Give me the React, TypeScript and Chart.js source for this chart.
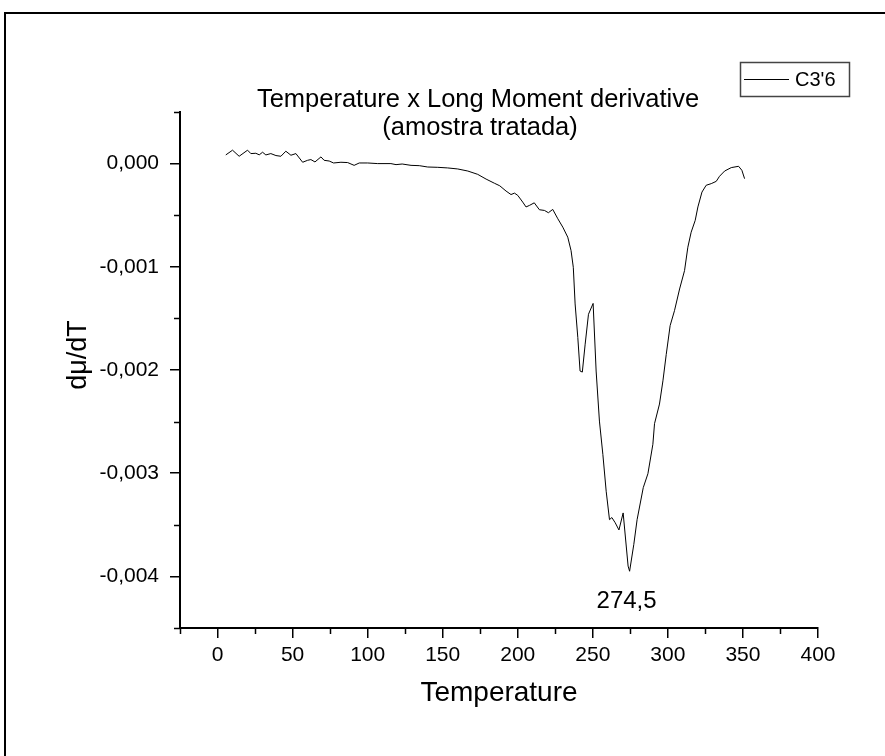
import React, { useEffect, useRef } from 'react';
import { Chart, registerables } from 'chart.js';

Chart.register(...registerables);

// ---- data ----
const temperatures = [
  5.5, 10, 14.4, 20, 22.2, 25.5, 27.8, 30, 32.2, 35.5, 38.9, 42.2, 45.5, 48.9, 52.2,
  56.7, 60, 62.2, 64.9, 68.9, 71, 74.4, 77.3, 82.2, 86.7, 91, 94.4, 100, 106.7, 115.5,
  118.9, 123, 128.9, 134.4, 140, 146.7, 153.3, 160, 166.7, 173.3, 178.9, 184.4, 188,
  192.2, 195.5, 197.8, 200, 203.3, 205.5, 207.8, 211, 214.4, 217.8, 220.4, 223.3,
  226.7, 230, 233.3, 235.5, 237, 238.2, 240, 241.5, 243, 244.9, 247.1, 250.2, 252.2,
  254.4, 256.7, 258.9, 261.1, 262.7, 264.9, 267.4, 270.2, 273.5, 274.5, 277.3, 279.5,
  283.6, 286.7, 290, 291.1, 294.4, 296.7, 298.9, 301.5, 304.4, 307.8, 311.1, 313.3,
  315.5, 318.2, 320, 322.7, 325.5, 328.9, 332.2, 334.4, 337.8, 342.2, 347.1, 349.3, 351.1,
];

const derivative = [
  0.000084, 0.00013, 0.000071, 0.00013, 0.000097, 0.0001, 0.000085, 0.00011, 0.000084,
  0.000097, 0.000078, 0.000071, 0.00012, 0.000081, 0.000097, 0.000013, 0.000032,
  0.000039, 0.000016, 0.000065, 0.000032, 0.000025, 0.000006, 0.000013, 0.00001,
  -0.000017, 0.000006, 0.000006, 0, 0, -0.00001, -0.000004, -0.000017, -0.00002,
  -0.000033, -0.000036, -0.000042, -0.000052, -0.000072, -0.000104, -0.00015, -0.00019,
  -0.000215, -0.000266, -0.0003, -0.000286, -0.000308, -0.000373, -0.00042, -0.000405,
  -0.00038, -0.000447, -0.000454, -0.000476, -0.000444, -0.000535, -0.000616, -0.000713,
  -0.000843, -0.001005, -0.00136, -0.001685, -0.00201, -0.00202, -0.00175, -0.00146,
  -0.001355, -0.00201, -0.002495, -0.00282, -0.003175, -0.00345, -0.00343, -0.00348,
  -0.00355, -0.003385, -0.0039, -0.00395, -0.00369, -0.00345, -0.00314, -0.003005,
  -0.00272, -0.00252, -0.00233, -0.002105, -0.00185, -0.00157, -0.001425, -0.001215,
  -0.001037, -0.00081, -0.000665, -0.00055, -0.00042, -0.000276, -0.00021, -0.000194,
  -0.000172, -0.000123, -0.000072, -0.000039, -0.000026, -0.000065, -0.000146,
];

const xMajorTicks = [0, 50, 100, 150, 200, 250, 300, 350, 400];
const xMinorTicks = [-25, 25, 75, 125, 175, 225, 275, 325, 375];
const yMajorTicks = [0, -0.001, -0.002, -0.003, -0.004];
const yMinorTicks = [0.0005, -0.0005, -0.0015, -0.0025, -0.0035, -0.0045];

const titleLines = ['Temperature x Long Moment derivative', '(amostra tratada)'];
const seriesLabel = "C3'6";
const xAxisTitle = 'Temperature';
const yAxisTitle = 'dμ/dT';
const peakTemperature = 274.5;
const peakValue = -0.00395;
const peakLabel = '274,5';

const FONT = '"Liberation Sans", Arial, sans-serif';

const formatComma = (v: number) => (Math.abs(v) < 1e-12 ? 0 : v).toFixed(3).replace('.', ',');

const decorPlugin = {
  id: 'decor',
  beforeDraw(chart: any) {
    const { ctx } = chart;
    ctx.save();
    ctx.fillStyle = '#ffffff';
    ctx.fillRect(0, 0, chart.width, chart.height);
    ctx.strokeStyle = '#000000';
    ctx.lineWidth = 2;
    ctx.strokeRect(5, 13, chart.width + 40, chart.height + 40);
    ctx.restore();
  },
  afterDraw(chart: any) {
    const { ctx } = chart;
    const xs = chart.scales.x;
    const ys = chart.scales.y;
    ctx.save();
    // minor ticks
    ctx.strokeStyle = '#000000';
    ctx.lineWidth = 1.5;
    xMinorTicks.forEach((v) => {
      const px = Math.round(xs.getPixelForValue(v)) + 0.5;
      ctx.beginPath();
      ctx.moveTo(px, ys.bottom);
      ctx.lineTo(px, ys.bottom + 6);
      ctx.stroke();
    });
    yMinorTicks.forEach((v) => {
      const py = Math.round(ys.getPixelForValue(v)) + 0.5;
      ctx.beginPath();
      ctx.moveTo(xs.left, py);
      ctx.lineTo(xs.left - 6, py);
      ctx.stroke();
    });

    // title
    ctx.fillStyle = '#000000';
    ctx.textAlign = 'center';
    ctx.textBaseline = 'middle';
    ctx.font = `25.5px ${FONT}`;
    ctx.fillText(titleLines[0], 478, 100);
    ctx.fillText(titleLines[1], 480, 128);

    // y axis title
    ctx.save();
    ctx.translate(79, 355);
    ctx.rotate(-Math.PI / 2);
    ctx.font = `27px ${FONT}`;
    ctx.fillText(yAxisTitle, 0, 0);
    ctx.restore();

    // peak label
    ctx.font = `24px ${FONT}`;
    ctx.fillText(peakLabel, xs.getPixelForValue(peakTemperature) - 3, ys.getPixelForValue(peakValue) + 30);

    // legend
    const ds = chart.data.datasets[0];
    ctx.strokeStyle = '#444444';
    ctx.lineWidth = 1.5;
    ctx.strokeRect(740.5, 62.5, 109, 34);
    ctx.strokeStyle = ds.borderColor;
    ctx.lineWidth = ds.borderWidth;
    ctx.beginPath();
    ctx.moveTo(744, 79.5);
    ctx.lineTo(789, 79.5);
    ctx.stroke();
    ctx.font = `20px ${FONT}`;
    ctx.textAlign = 'left';
    ctx.fillText(ds.label, 795, 80);
    ctx.restore();
  },
};

export default function App() {
  const canvasRef = useRef<HTMLCanvasElement | null>(null);

  useEffect(() => {
    document.body.style.margin = '0';
    const canvas = canvasRef.current;
    if (!canvas) return;
    const points = temperatures.map((t, i) => ({ x: t, y: derivative[i] }));
    const chart = new Chart(canvas, {
      type: 'line',
      data: {
        datasets: [
          {
            label: seriesLabel,
            data: points,
            borderColor: '#000000',
            borderWidth: 1,
            pointRadius: 0,
            tension: 0,
            fill: false,
          },
        ],
      },
      options: {
        animation: false,
        responsive: false,
        devicePixelRatio: 1,
        layout: { padding: { top: 112, right: 67, left: 0, bottom: 0 } },
        plugins: {
          legend: { display: false },
          title: { display: false },
          tooltip: { enabled: false },
        },
        scales: {
          x: {
            type: 'linear',
            min: -25,
            max: 400,
            afterBuildTicks: (s: any) => {
              s.ticks = xMajorTicks.map((value) => ({ value }));
            },
            afterFit: (s: any) => {
              s.height = 128;
            },
            ticks: {
              color: '#000000',
              font: { family: FONT, size: 21 },
              padding: 5,
              maxRotation: 0,
              autoSkip: false,
              callback: (v: any) => String(v),
            },
            grid: {
              display: true,
              drawOnChartArea: false,
              drawTicks: true,
              tickLength: 10,
              color: '#000000',
              lineWidth: 1.5,
            },
            border: { display: true, color: '#000000', width: 2 },
            title: {
              display: true,
              text: xAxisTitle,
              color: '#000000',
              font: { family: FONT, size: 28 },
              padding: { top: 0, bottom: 46 },
            },
          },
          y: {
            type: 'linear',
            min: -0.0045,
            max: 0.0005,
            afterBuildTicks: (s: any) => {
              s.ticks = yMajorTicks.map((value) => ({ value }));
            },
            afterFit: (s: any) => {
              s.width = 180;
            },
            ticks: {
              color: '#000000',
              font: { family: FONT, size: 21 },
              padding: 11,
              autoSkip: false,
              callback: (v: any) => formatComma(Number(v)),
            },
            grid: {
              display: true,
              drawOnChartArea: false,
              drawTicks: true,
              tickLength: 10,
              color: '#000000',
              lineWidth: 1.5,
            },
            border: { display: true, color: '#000000', width: 2 },
            title: { display: false },
          },
        },
      },
      plugins: [decorPlugin],
    });
    return () => chart.destroy();
  }, []);

  return (
    <div style={{ width: 885, height: 756 }}>
      <canvas ref={canvasRef} width={885} height={756} style={{ display: 'block', width: 885, height: 756 }} />
    </div>
  );
}
